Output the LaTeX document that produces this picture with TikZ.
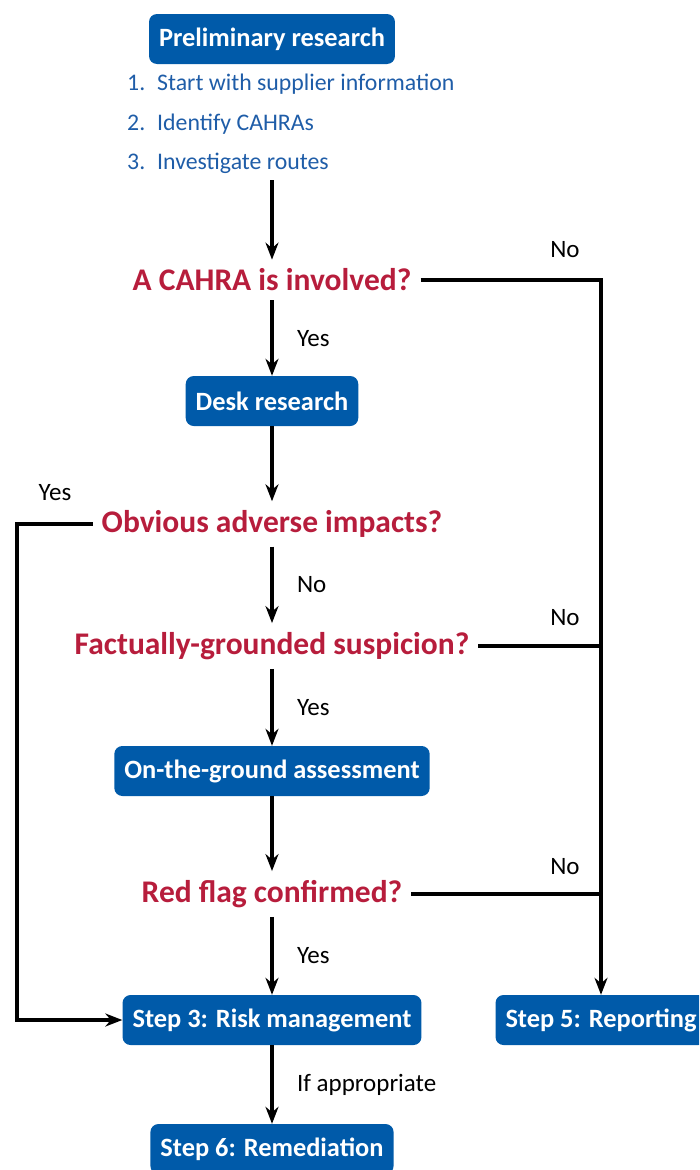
\documentclass[tikz,border=0pt]{standalone}
\usepackage{fontspec}
\setmainfont{Carlito}
\usetikzlibrary{arrows.meta,positioning}
\definecolor{boxblue}{HTML}{005AA9}
\definecolor{listblue}{HTML}{1F5DA8}
\definecolor{askred}{HTML}{B71D3C}
\tikzset{
  stepbox/.style={fill=boxblue, text=white, rounded corners=8pt, minimum height=50pt,
    inner xsep=10pt, font=\fontsize{26.4}{30}\selectfont\bfseries},
  ask/.style={text=askred, inner sep=9pt, font=\fontsize{31.5}{36}\selectfont\bfseries},
  listitem/.style={text=listblue, anchor=west, inner sep=0pt, font=\fontsize{23.8}{28}\selectfont},
  lbl/.style={font=\fontsize{25}{29}\selectfont},
  flow/.style={line width=3.5pt, -{Stealth[length=17pt,width=13pt]}},
  link/.style={line width=3.5pt}
}
\begin{document}
\begin{tikzpicture}[x=1pt,y=-1pt]
  \useasboundingbox (0,0) rectangle (699,1170);
  \clip (0,0) rectangle (699,1170);
  % boxes and questions
  \node[stepbox] (pre) at (272,39) {Preliminary research};
  \node[listitem] (l1) at (127,84) {\makebox[30pt][l]{1.}Start with supplier information};
  \node[listitem] (l2) at (127,124) {\makebox[30pt][l]{2.}Identify CAHRAs};
  \node[listitem] (l3) at (127,163) {\makebox[30pt][l]{3.}Investigate routes};
  \coordinate (lend) at (272,180);
  \node[ask] (q1) at (272,280) {A CAHRA is involved?};
  \node[stepbox] (desk) at (272,401) {Desk research};
  \node[ask] (q2) at (272,524) {Obvious adverse impacts?};
  \node[ask] (q3) at (272,646) {Factually-grounded suspicion?};
  \node[stepbox] (ground) at (272,771) {On-the-ground assessment};
  \node[ask] (q4) at (272,894) {Red flag confirmed?};
  \node[stepbox] (s3) at (272,1020) {Step 3: Risk management};
  \node[stepbox] (s5) at (601,1020) {Step 5: Reporting};
  \node[stepbox] (s6) at (272,1149) {Step 6: Remediation};
  \coordinate (lft) at (17,524);
  % main flow
  \draw[flow] (lend) -- (q1);
  \draw[flow] (q1) -- node[lbl, right=20pt] {Yes} (desk);
  \draw[flow] (desk) -- (q2);
  \draw[flow] (q2) -- node[lbl, right=20pt] {No} (q3);
  \draw[flow] (q3) -- node[lbl, right=20pt] {Yes} (ground);
  \draw[flow] (ground) -- (q4);
  \draw[flow] (q4) -- node[lbl, right=20pt] {Yes} (s3);
  \draw[flow] (s3) -- node[lbl, right=20pt] {If appropriate} (s6);
  % side branches
  \draw[flow] (q1.east) -| (s5.north);
  \draw[link] (q3.east) -- (q3.east -| s5.north);
  \draw[link] (q4.east) -- (q4.east -| s5.north);
  \draw[flow] (q2.west) -- (lft) |- (s3.west);
  \node[lbl] (no1) at (565,250) {No};
  \node[lbl] (no3) at (565,618) {No};
  \node[lbl] (no4) at (565,867) {No};
  \node[lbl] (yes2) at (55,493) {Yes};
\end{tikzpicture}
\end{document}
